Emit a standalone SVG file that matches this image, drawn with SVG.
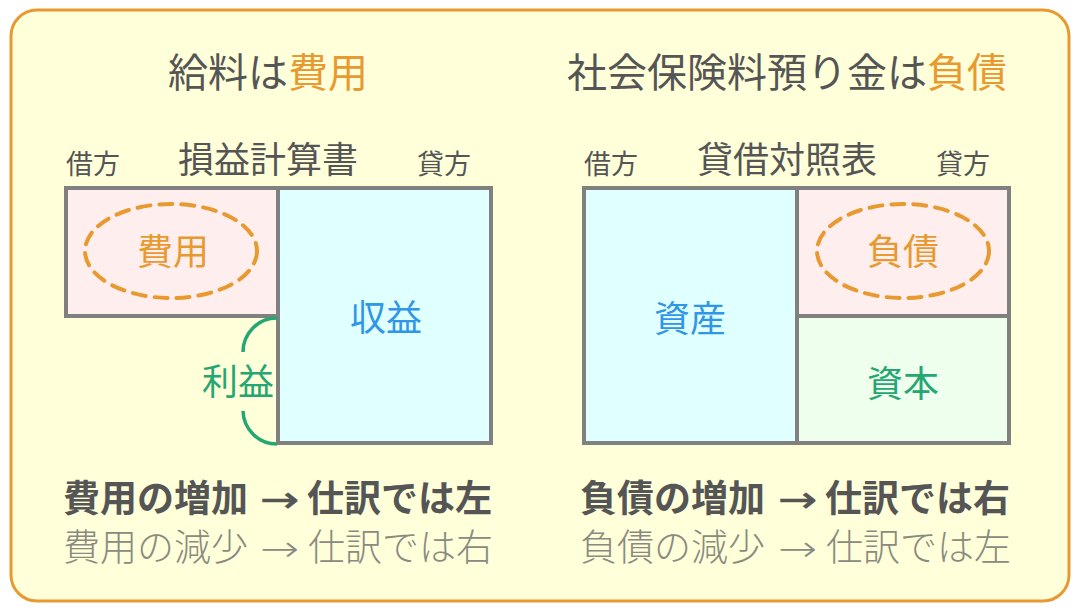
<svg xmlns="http://www.w3.org/2000/svg" width="1080" height="612" viewBox="0 0 1080 612">
<style>
text{font-family:"Noto Sans CJK JP","Noto Sans",sans-serif;fill:#555555}
.title{font-size:40px;text-anchor:middle}
.sub{font-size:36px;text-anchor:middle}
.side{font-size:27px}
.box{stroke:#808080;stroke-width:4}
.lbl{font-size:36px;text-anchor:middle}
.orange{fill:#E89A30}
.blue{fill:#2F96E8}
.green{fill:#25A673}
.b1{font-size:37px;font-weight:700}
.b2{font-size:37px;font-weight:300;fill:#8A8A80}
.arr{font-family:"DejaVu Sans",sans-serif;font-size:36px}
.arr.b1{font-weight:400;stroke:#555555;stroke-width:0.6}
.arr.b2{font-weight:200}
.dash{fill:none;stroke:#E89A30;stroke-width:4;stroke-dasharray:13 9;stroke-linecap:round}
</style>
<rect x="11" y="10" width="1058" height="591" rx="26" fill="#FFFFDA" stroke="#E89A30" stroke-width="3"/>

<g id="left-title">
<text class="title" x="268" y="87">給料は<tspan class="orange">費用</tspan></text>
<text class="side" x="66" y="174">借方</text>
<text class="sub" x="268" y="173">損益計算書</text>
<text class="side" x="417" y="174">貸方</text>
</g>
<g id="expense">
<rect class="box" x="66" y="188" width="212" height="128" fill="#FFEEEE"/>
<ellipse class="dash" cx="171" cy="251" rx="86" ry="47"/>
<text class="lbl orange" x="173" y="265">費用</text>
</g>
<g id="revenue">
<rect class="box" x="278" y="188" width="213" height="255" fill="#E0FFFF"/>
<text class="lbl blue" x="386" y="331">収益</text>
</g>
<g id="profit">
<path d="M277,318 A34,34 0 0 0 243,352 M243,411 A34,34 0 0 0 277,444" fill="none" stroke="#25A673" stroke-width="3.5"/>
<text class="lbl green" x="238" y="395">利益</text>
</g>
<g id="left-notes">
<text class="b1" y="512"><tspan x="63">費用の増加</tspan><tspan x="307">仕訳では左</tspan></text>
<text class="b1 arr" transform="translate(260 512) scale(1.3 1)">→</text>
<text class="b2" y="561"><tspan x="63">費用の減少</tspan><tspan x="308">仕訳では右</tspan></text>
<text class="b2 arr" transform="translate(260 561) scale(1.3 1)">→</text>
</g>

<g id="right-title">
<text class="title" x="787" y="87">社会保険料預り金は<tspan class="orange">負債</tspan></text>
<text class="side" x="584" y="174">借方</text>
<text class="sub" x="787" y="173">貸借対照表</text>
<text class="side" x="936" y="174">貸方</text>
</g>
<g id="assets">
<rect class="box" x="584" y="188" width="213" height="255" fill="#E0FFFF"/>
<text class="lbl blue" x="690" y="332">資産</text>
</g>
<g id="liabilities">
<rect class="box" x="797" y="188" width="212" height="128" fill="#FFEEEE"/>
<ellipse class="dash" cx="903" cy="251" rx="86" ry="47"/>
<text class="lbl orange" x="903" y="265">負債</text>
</g>
<g id="equity">
<rect class="box" x="797" y="316" width="212" height="127" fill="#EEFFEE"/>
<text class="lbl green" x="903" y="397">資本</text>
</g>
<g id="right-notes">
<text class="b1" y="512"><tspan x="580">負債の増加</tspan><tspan x="825">仕訳では右</tspan></text>
<text class="b1 arr" transform="translate(778 512) scale(1.3 1)">→</text>
<text class="b2" y="561"><tspan x="580">負債の減少</tspan><tspan x="826">仕訳では左</tspan></text>
<text class="b2 arr" transform="translate(778 561) scale(1.3 1)">→</text>
</g>
<g id="connectors"></g>
</svg>
